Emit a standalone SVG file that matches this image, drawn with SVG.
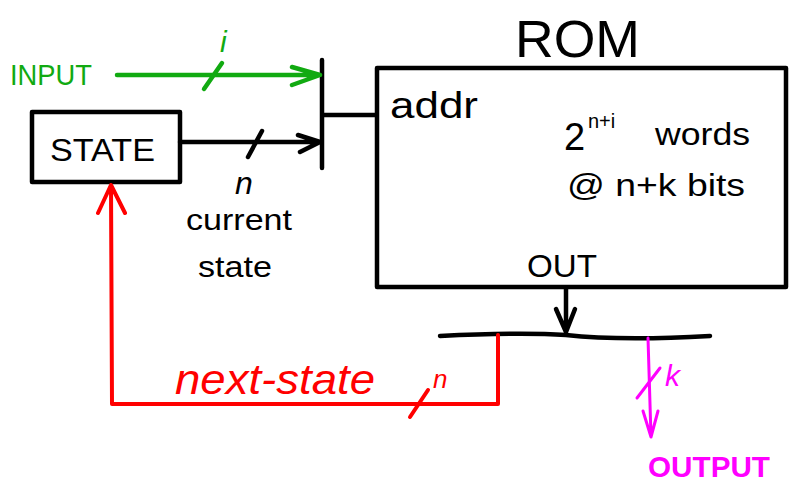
<svg xmlns="http://www.w3.org/2000/svg" width="792" height="487" viewBox="0 0 792 487">
<style>
.t{font-family:"Liberation Sans",Arial,sans-serif;}
.blk{stroke:#000;fill:none;stroke-width:4.5;stroke-linecap:round;stroke-linejoin:round;}
.grn{stroke:#11aa11;fill:none;stroke-width:4.5;stroke-linecap:round;stroke-linejoin:round;}
.red{stroke:#ff0000;fill:none;stroke-width:4;stroke-linecap:round;stroke-linejoin:round;}
.mag{stroke:#ff00ff;fill:none;stroke-width:3;stroke-linecap:round;stroke-linejoin:round;}
</style>
<rect width="792" height="487" fill="#fff"/>
<g id="rom">
<rect class="blk" x="377" y="68" width="409" height="219"/>
<text class="t" x="515" y="57" font-size="52" textLength="125" lengthAdjust="spacingAndGlyphs">ROM</text>
<text class="t" x="390" y="118" font-size="36" textLength="88" lengthAdjust="spacingAndGlyphs">addr</text>
<text class="t" x="564" y="150" font-size="38">2</text>
<text class="t" x="588" y="128" font-size="20">n+i</text>
<text class="t" x="655" y="145" font-size="32" textLength="95" lengthAdjust="spacingAndGlyphs">words</text>
<text class="t" x="567" y="196" font-size="32" textLength="178" lengthAdjust="spacingAndGlyphs">@ n+k bits</text>
<text class="t" x="527" y="277" font-size="32" textLength="70" lengthAdjust="spacingAndGlyphs">OUT</text>
</g>
<g id="state">
<rect class="blk" x="32" y="112" width="148" height="70"/>
<text class="t" x="50" y="161" font-size="32" textLength="105" lengthAdjust="spacingAndGlyphs">STATE</text>
</g>
<g id="input">
<text class="t" x="10" y="85" font-size="30" fill="#11aa11" textLength="82" lengthAdjust="spacingAndGlyphs">INPUT</text>
</g>
<g id="output">
<text class="t" x="648" y="477" font-size="30" font-weight="bold" fill="#ff00ff" textLength="122" lengthAdjust="spacingAndGlyphs">OUTPUT</text>
</g>
<g id="connectors">
<path class="blk" d="M322 60 V168 M322 115 H376"/>
<path class="grn" d="M117 75 H320 M292 67 L320 75 L292 85"/>
<path class="grn" d="M204 89 L222 63"/>
<text class="t" x="220" y="52" font-size="30" fill="#11aa11" font-style="italic">i</text>
<path class="blk" d="M180 142 H320 M298 135 L320 142 L300 152"/>
<path class="blk" d="M248 157 L262 131"/>
<text class="t" x="244" y="194" font-size="32" font-style="italic" text-anchor="middle">n</text>
<text class="t" x="186" y="230" font-size="30" textLength="106" lengthAdjust="spacingAndGlyphs">current</text>
<text class="t" x="198" y="277" font-size="30" textLength="74" lengthAdjust="spacingAndGlyphs">state</text>
<path class="blk" d="M566 289 V334 M556 309 L566 332 L575 309"/>
<path class="blk" d="M440 336 Q520 332 566 335 Q620 341 710 336"/>
<path class="red" d="M498 335 V404 H112 Q112 330 111 185 M98 213 L111 185 L125 213"/>
<path class="red" d="M410 417 L428 390"/>
<text class="t" x="433" y="388" font-size="26" fill="#ff0000" font-style="italic">n</text>
<text class="t" x="175" y="394" font-size="42" fill="#ff0000" font-style="italic" textLength="200" lengthAdjust="spacingAndGlyphs">next-state</text>
<path class="mag" d="M648 338 L651 437 M643 411 L651 437 L658 411"/>
<path class="mag" d="M637 398 L660 368"/>
<text class="t" x="665" y="386" font-size="30" fill="#ff00ff" font-style="italic">k</text>
</g>
</svg>
